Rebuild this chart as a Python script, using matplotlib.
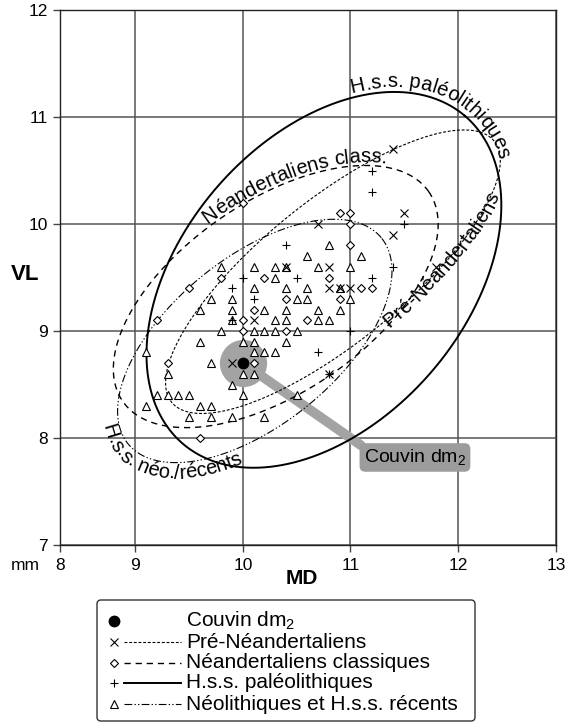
import numpy as np
import matplotlib
matplotlib.use('Agg')
import matplotlib.pyplot as plt
from matplotlib.textpath import TextPath
from matplotlib.font_manager import FontProperties
from matplotlib.patches import FancyBboxPatch

plt.rcParams['font.family'] = ['Liberation Sans', 'DejaVu Sans']
plt.rcParams['mathtext.fontset'] = 'custom'
plt.rcParams['mathtext.rm'] = 'Liberation Sans'
plt.rcParams['mathtext.it'] = 'Liberation Sans:italic'
plt.rcParams['mathtext.bf'] = 'Liberation Sans:bold'

# ---------------- data ----------------
x_ticks = [8, 9, 10, 11, 12, 13]
x_ticklabels = ['8', '9', '10', '11', '12', '13']
y_ticks = [7, 8, 9, 10, 11, 12]
y_ticklabels = ['7', '8', '9', '10', '11', '12']

couvin_md = [10.0]
couvin_vl = [8.7]

pre_md = [9.9, 10.7, 11.4, 10.4, 10.8, 10.8, 10.9, 11.0, 10.1, 11.4, 11.5, 11.8, 10.8]
pre_vl = [8.7, 10.0, 9.9, 9.6, 9.6, 9.4, 9.4, 9.4, 9.1, 10.7, 10.1, 9.6, 8.6]

nea_md = [9.8, 9.5, 9.2, 10.0, 10.0, 9.3, 9.6, 10.0, 10.9, 11.0, 11.0, 11.0, 10.2, 10.8,
          11.1, 11.2, 10.4, 10.9, 10.1, 10.6, 10.4, 10.1]
nea_vl = [9.5, 9.4, 9.1, 9.1, 9.0, 8.7, 8.0, 10.2, 10.1, 10.1, 10.0, 9.8, 9.5, 9.5,
          9.4, 9.4, 9.3, 9.3, 9.2, 9.1, 9.0, 8.7]

pal_md = [10.0, 9.9, 10.4, 11.4, 10.5, 11.2, 10.1, 10.7, 11.2, 11.2, 11.5, 11.0, 9.9, 10.8]
pal_vl = [9.5, 9.4, 9.8, 9.6, 9.5, 9.5, 9.3, 8.8, 10.5, 10.3, 10.0, 9.0, 9.1, 8.6]

neo_md = [9.8, 9.7, 9.9, 9.6, 9.9, 9.9, 9.8, 9.6, 10.0, 9.1, 9.7, 9.3, 10.0, 9.9,
          9.2, 9.3, 9.4, 9.5, 10.0, 9.1, 9.6, 9.7, 9.5, 9.7, 9.9, 10.2,
          10.8, 10.6, 11.1, 10.1, 10.3, 10.4, 10.7, 11.0, 10.3, 10.1, 10.4, 10.6, 10.9,
          10.5, 10.6, 11.0, 10.2, 10.4, 10.7, 10.9, 10.3, 10.4, 10.7, 10.8,
          10.1, 10.2, 10.3, 10.5, 10.1, 10.4, 10.1, 10.2, 10.3, 10.1, 10.5]
neo_vl = [9.6, 9.3, 9.3, 9.2, 9.2, 9.1, 9.0, 8.9, 8.9, 8.8, 8.7, 8.6, 8.6, 8.5,
          8.4, 8.4, 8.4, 8.4, 8.4, 8.3, 8.3, 8.3, 8.2, 8.2, 8.2, 8.2,
          9.8, 9.7, 9.7, 9.6, 9.6, 9.6, 9.6, 9.6, 9.5, 9.4, 9.4, 9.4, 9.4,
          9.3, 9.3, 9.3, 9.2, 9.2, 9.2, 9.2, 9.1, 9.1, 9.1, 9.1,
          9.0, 9.0, 9.0, 9.0, 8.9, 8.9, 8.8, 8.8, 8.8, 8.6, 8.4]

# ellipses (on the drawn, pixel-linear MD axis):
# Pré-Néandertaliens, Néandertaliens classiques, H.s.s. paléolithiques, Néolithiques/récents
ell_cx = [10.837, 10.305, 10.753, 10.110]
ell_cy = [9.554, 9.322, 9.478, 8.907]
ell_w = [3.868, 3.456, 4.034, 3.043]
ell_h = [1.326, 1.786, 2.638, 1.559]
ell_ang = [39.16, 34.53, 49.45, 39.33]

legend_labels = ['Couvin dm$_2$', 'Pré-Néandertaliens', 'Néandertaliens classiques',
                 'H.s.s. paléolithiques', 'Néolithiques et H.s.s. récents']

# ---------------- styles ----------------
line_styles = [dict(lw=0.8, dashes=(2.6, 1.6)),
               dict(lw=1.0, dashes=(4.5, 3.5)),
               dict(lw=1.4, ls='-'),
               dict(lw=0.8, dashes=(7, 2, 1.2, 2, 1.2, 2))]
mk = dict(
    neo=dict(marker='^', ms=5.4, mfc='white', mec='black', mew=0.8, ls='none'),
    nea=dict(marker='D', ms=3.7, mfc='white', mec='black', mew=0.8, ls='none'),
    pre=dict(marker='x', ms=5.4, mec='black', mew=0.8, ls='none'),
    pal=dict(marker='+', ms=6.2, mec='black', mew=0.8, ls='none'),
    cou=dict(marker='o', ms=7.5, mfc='black', mec='black', ls='none'),
)

W, H = 567, 728
K_LO = 0.702   # compressed 8-9 interval of the MD axis
K_HI = 0.912   # slightly compressed 12-13 interval
PX_UNIT = 107.5
fig = plt.figure(figsize=(W / 100, H / 100), dpi=100)
ax_w = (12 + K_HI - (9 - K_LO)) * PX_UNIT
ax = fig.add_axes([60 / W, 1 - 545 / H, ax_w / W, 535 / H])


def fwd(x):
    x = np.asarray(x, dtype=float)
    return np.where(x < 9, 9 - (9 - x) * K_LO, np.where(x > 12, 12 + (x - 12) * K_HI, x))


def inv(v):
    v = np.asarray(v, dtype=float)
    return np.where(v < 9, 9 - (9 - v) / K_LO, np.where(v > 12, 12 + (v - 12) / K_HI, v))


ax.set_xscale('function', functions=(fwd, inv))
ax.set_xlim(8, 13)
ax.set_ylim(7, 12)
ax.set_xticks(x_ticks)
ax.set_xticklabels(x_ticklabels)
ax.set_yticks(y_ticks)
ax.set_yticklabels(y_ticklabels)
ax.minorticks_off()
ax.tick_params(direction='out', length=5, width=1, labelsize=12.5, pad=4, color='#444444')
ax.grid(True, color='#555555', lw=1.1, zorder=0)
ax.set_axisbelow(True)
for sp in ax.spines.values():
    sp.set_color('#222222')
    sp.set_linewidth(1.0)


def ellipse_pts(i, n=1441):
    t = np.linspace(0, 2 * np.pi, n)
    a, b = ell_w[i] / 2, ell_h[i] / 2
    th = np.deg2rad(ell_ang[i])
    x = ell_cx[i] + a * np.cos(t) * np.cos(th) - b * np.sin(t) * np.sin(th)
    y = ell_cy[i] + a * np.cos(t) * np.sin(th) + b * np.sin(t) * np.cos(th)
    return inv(x), y   # outline is an ellipse on the drawn axis


for i in range(4):
    ex, ey = ellipse_pts(i)
    ax.plot(ex, ey, color='black', zorder=2.5, **line_styles[i])

# Couvin highlight
ax.plot(couvin_md, couvin_vl, marker='o', ms=34, mfc='#a3a3a3', mec='none', ls='none', zorder=1.2)
ax.annotate('Couvin dm$_2$', xy=(couvin_md[0], couvin_vl[0]), xytext=(11.60, 7.818),
            ha='center', va='center', fontsize=14, zorder=1.3,
            bbox=dict(boxstyle='round,pad=0.22,rounding_size=0.3', fc='#9c9c9c', ec='none'),
            arrowprops=dict(arrowstyle='-', color='#a3a3a3', lw=7, shrinkA=0, shrinkB=0,
                            relpos=(0.03, 0.9)))

ax.plot(neo_md, neo_vl, zorder=3, **mk['neo'])
ax.plot(nea_md, nea_vl, zorder=3.2, **mk['nea'])
ax.plot(pre_md, pre_vl, zorder=3.4, **mk['pre'])
ax.plot(pal_md, pal_vl, zorder=3.6, **mk['pal'])
ax.plot(couvin_md, couvin_vl, zorder=4, **mk['cou'])


def text_on_curve(s, i, start_px, ccw, offset, size):
    ex, ey = ellipse_pts(i, 3001)
    pts = ax.transData.transform(np.column_stack([ex, ey]))
    if not ccw:
        pts = pts[::-1]
    tg = np.gradient(pts, axis=0)
    tg /= np.hypot(tg[:, 0], tg[:, 1])[:, None]
    nrm = np.column_stack([-tg[:, 1], tg[:, 0]])
    pts = pts + nrm * offset
    sp = np.array([start_px[0], H - start_px[1]], float)
    i0 = int(np.argmin(np.hypot(pts[:, 0] - sp[0], pts[:, 1] - sp[1])))
    pts = np.vstack([pts[i0:], pts[:i0]])
    d = np.diff(pts, axis=0)
    cum = np.concatenate([[0], np.cumsum(np.hypot(d[:, 0], d[:, 1]))])
    fp = FontProperties(family='Liberation Sans', size=size)
    k = fig.dpi / 72
    base = TextPath((0, 0), 'xx', prop=fp).get_extents().width
    pos = 0.0
    inv_t = ax.transData.inverted()
    for ch in s:
        wch = (TextPath((0, 0), 'x' + ch + 'x', prop=fp).get_extents().width - base) * k
        sc = pos + wch / 2
        px = np.interp(sc, cum, pts[:, 0])
        py = np.interp(sc, cum, pts[:, 1])
        j = min(max(int(np.searchsorted(cum, sc)), 1), len(pts) - 1)
        tx, ty = pts[j] - pts[j - 1]
        a = np.degrees(np.arctan2(ty, tx))
        dx, dy = inv_t.transform((px, py))
        if ch != ' ':
            ax.text(dx, dy, ch, rotation=a, rotation_mode='anchor', ha='center',
                    va='baseline', fontsize=size, zorder=6)
        pos += wch


text_on_curve('H.s.s. paléolithiques', 2, (350, 86), False, 5, 14.5)
text_on_curve('Néandertaliens class.', 1, (205, 220), False, 3, 14.5)
text_on_curve('Pré-Néandertaliens', 0, (390, 328), True, -8, 14.5)
text_on_curve('H.s.s. néo./récents', 3, (103, 426), True, -16, 14.5)

# ---------------- overlay (pixel coordinates) ----------------
ov = fig.add_axes([0, 0, 1, 1], zorder=10)
ov.set_xlim(0, W)
ov.set_ylim(H, 0)
ov.axis('off')

ov.text(25, 275, 'VL', fontsize=16, fontweight='bold', ha='center', va='center')
ov.text(302, 578, 'MD', fontsize=15, fontweight='bold', ha='center', va='center')
ov.text(25, 566, 'mm', fontsize=12.5, ha='center', va='center')

ov.add_patch(FancyBboxPatch((97, 600), 378, 121, boxstyle='round,pad=0,rounding_size=4',
                            fc='white', ec='#333333', lw=1.0))
row_y = [621, 642, 663, 683, 704]
row_mk = ['cou', 'pre', 'nea', 'pal', 'neo']
row_ls = [None, 0, 1, 2, 3]
for r in range(5):
    ov.plot([114], [row_y[r]], **mk[row_mk[r]])
    if row_ls[r] is not None:
        ov.plot([124, 181], [row_y[r], row_y[r]], color='black', **line_styles[row_ls[r]])
    ov.text(186, row_y[r], legend_labels[r], fontsize=15, ha='left', va='center')

fig.savefig('out.png', dpi=100)
